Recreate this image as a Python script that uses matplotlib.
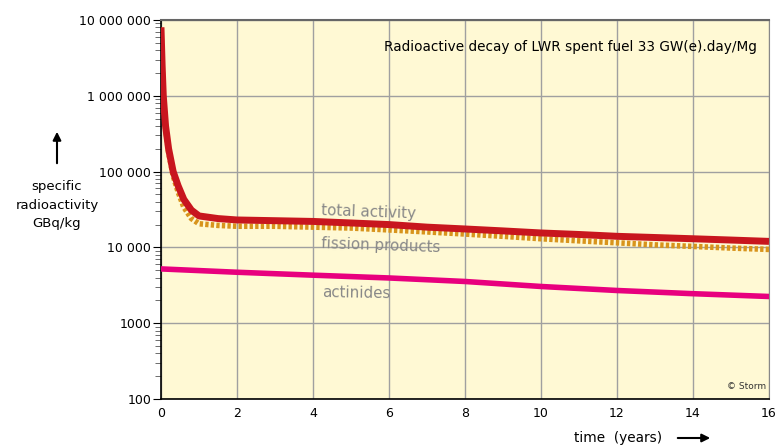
import numpy as np
import matplotlib.pyplot as plt
from matplotlib.ticker import FixedLocator, LogLocator, NullFormatter

# time in years
t_total = [0, 0.03, 0.06, 0.12, 0.2, 0.32, 0.45, 0.6, 0.8, 1.0, 1.5, 2, 3, 4, 5, 6, 7, 8, 9, 10, 11, 12, 13, 14, 15, 16]
total = [8.0e6, 2.5e6, 1.0e6, 4.0e5, 2.0e5, 1.0e5, 6.5e4, 4.3e4, 3.1e4, 2.6e4, 2.4e4, 2.3e4, 2.25e4, 2.2e4, 2.1e4,
         2.0e4, 1.85e4, 1.75e4, 1.65e4, 1.55e4, 1.48e4, 1.4e4, 1.35e4, 1.3e4, 1.25e4, 1.2e4]

t_fission = [0, 0.03, 0.06, 0.12, 0.2, 0.32, 0.45, 0.6, 0.8, 1.0, 1.5, 2, 3, 4, 5, 6, 7, 8, 9, 10, 11, 12, 13, 14, 15, 16]
fission = [7.9e6, 2.4e6, 9.5e5, 3.8e5, 1.8e5, 8.8e4, 5.4e4, 3.4e4, 2.4e4, 2.05e4, 1.95e4, 1.9e4, 1.9e4, 1.85e4, 1.8e4,
           1.7e4, 1.6e4, 1.5e4, 1.4e4, 1.3e4, 1.22e4, 1.15e4, 1.08e4, 1.03e4, 9.8e3, 9.4e3]

t_act = [0, 2, 4, 6, 8, 10, 12, 14, 16]
actinides = [5200, 4700, 4300, 3950, 3550, 3050, 2700, 2450, 2250]

yticks = [100, 1000, 1e4, 1e5, 1e6, 1e7]
ylabels = ["100", "1000", "10 000", "100 000", "1 000 000", "10 000 000"]
xticks = [0, 2, 4, 6, 8, 10, 12, 14, 16]

fig = plt.figure(figsize=(7.77, 4.46), dpi=100)
ax = fig.add_axes([0.2072, 0.1054, 0.7825, 0.8498])
ax.set_facecolor("#FFF9D4")

ax.plot(t_fission, fission, color="#D8941C", lw=4, ls=(0, (0.6, 0.4)), zorder=3)
ax.plot(t_total, total, color="#C8161E", lw=5, zorder=4, solid_capstyle="butt")
ax.plot(t_act, actinides, color="#E8007E", lw=4, zorder=4)

ax.set_yscale("log")
ax.set_xlim(0, 16)
ax.set_ylim(100, 1e7)
ax.yaxis.set_major_locator(FixedLocator(yticks))
ax.set_yticklabels(ylabels)
ax.yaxis.set_minor_locator(LogLocator(base=10, subs=np.arange(2, 10)))
ax.yaxis.set_minor_formatter(NullFormatter())
ax.set_xticks(xticks)
ax.tick_params(axis="both", labelsize=9, color="black", length=6)
ax.tick_params(axis="y", pad=1)
ax.tick_params(axis="x", length=0, pad=6)
ax.tick_params(axis="y", which="minor", length=4, color="#555555")
ax.grid(True, which="major", color="#A0A0A0", lw=1)
ax.set_axisbelow(True)

for s in ["left", "bottom"]:
    ax.spines[s].set_color("black")
    ax.spines[s].set_linewidth(1.2)
ax.spines["top"].set_color("#666666")
ax.spines["top"].set_linewidth(1.5)
ax.spines["right"].set_color("#888888")

ax.text(0.98, 0.929, "Radioactive decay of LWR spent fuel 33 GW(e).day/Mg", transform=ax.transAxes,
        ha="right", va="center", fontsize=9.8, color="black")
ax.text(0.995, 0.02, "© Storm", transform=ax.transAxes, ha="right", va="bottom", fontsize=6.5, color="#333333")

ax.text(4.2, 2.95e4, "total activity", color="#888888", fontsize=10.8, rotation=-2, ha="left", va="center")
ax.text(4.2, 1.05e4, "fission products", color="#888888", fontsize=10.8, rotation=-2, ha="left", va="center")
ax.text(4.25, 2.5e3, "actinides", color="#888888", fontsize=10.8, rotation=-1, ha="left", va="center")

fig.text(57 / 777, 1 - 205 / 446, "specific\nradioactivity\nGBq/kg", ha="center", va="center",
         fontsize=9.5, linespacing=1.55)
fig.add_artist(plt.Annotation("", xy=(57 / 777, 1 - 129 / 446), xytext=(57 / 777, 1 - 166 / 446),
                              xycoords="figure fraction",
                              arrowprops=dict(arrowstyle="-|>", color="black", lw=1.5, mutation_scale=12)))
fig.text(618 / 777, 1 - 438 / 446, "time  (years)", ha="center", va="center", fontsize=9.8)
fig.add_artist(plt.Annotation("", xy=(713 / 777, 1 - 438 / 446), xytext=(675 / 777, 1 - 438 / 446),
                              xycoords="figure fraction",
                              arrowprops=dict(arrowstyle="-|>", color="black", lw=1.5, mutation_scale=12)))

fig.savefig("out.png", dpi=100)
